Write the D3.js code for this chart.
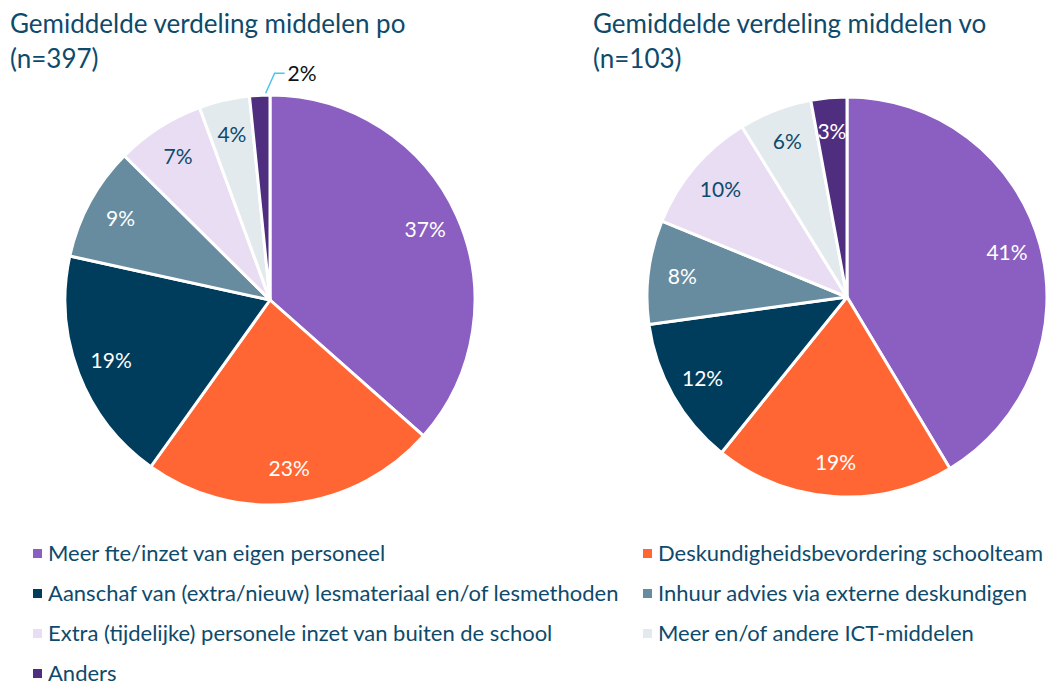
<!DOCTYPE html>
<html>
<head>
<meta charset="utf-8">
<script src="https://cdn.jsdelivr.net/npm/d3@7"></script>
<style>
  body { margin: 0; background: #fff; }
  svg { font-family: Lato, "Open Sans", sans-serif; }
</style>
</head>
<body>
<svg id="chart" width="1047" height="687"></svg>
<script>
// categories, in drawing order (clockwise from 12 o'clock)
const categories = [
  "Meer fte/inzet van eigen personeel",
  "Deskundigheidsbevordering schoolteam",
  "Aanschaf van (extra/nieuw) lesmateriaal en/of lesmethoden",
  "Inhuur advies via externe deskundigen",
  "Extra (tijdelijke) personele inzet van buiten de school",
  "Meer en/of andere ICT-middelen",
  "Anders"
];
const colors = ["#8b5fc1", "#ff6633", "#003d5c", "#678ca0", "#e8ddf2", "#e3eaee", "#4f2d7f"];
const labelColors = ["#fff", "#fff", "#fff", "#fff", "#0e4a6b", "#0e4a6b", "#fff"];

// average distribution (%)
const valuesPo = [36.6, 23.4, 18.6, 9.0, 7.0, 4.0, 1.6];
const valuesVo = [41.4, 19.4, 12.0, 8.4, 10.0, 5.9, 2.9];

const titlesPo = ["Gemiddelde verdeling middelen po", "(n=397)"];
const titlesVo = ["Gemiddelde verdeling middelen vo", "(n=103)"];

const svg = d3.select("#chart");
const textColor = "#0e4a6b";

function drawPie(values, titles, cx, cy, r, titleX) {
  const title = svg.append("g");
  titles.forEach((t, i) => {
    title.append("text")
      .attr("x", titleX)
      .attr("y", 33 + i * 35)
      .attr("fill", textColor)
      .style("font-size", "26px")
      .text(t);
  });

  const pie = d3.pie().sort(null).value(d => d.value);
  const arcs = pie(values.map((v, i) => ({ value: v, i: i })));
  const arc = d3.arc().innerRadius(0).outerRadius(r);

  const g = svg.append("g").attr("transform", "translate(" + cx + "," + cy + ")");

  g.selectAll("path")
    .data(arcs)
    .enter()
    .append("path")
    .attr("d", arc)
    .attr("fill", d => colors[d.data.i])
    .attr("stroke", "#fff")
    .attr("stroke-width", 3)
    .attr("stroke-linejoin", "round");

  const labelArc = d3.arc().innerRadius(r * 0.83).outerRadius(r * 0.83);

  arcs.forEach(d => {
    const txt = Math.round(d.data.value) + "%";
    if (d.data.value < 2) {
      // small slice: label outside with a leader line
      const a = (d.startAngle + d.endAngle) / 2;
      const x0 = Math.sin(a) * (r + 2) + 6, y0 = -Math.cos(a) * (r + 2);
      const x1 = x0 + 9, y1 = y0 - 20;
      g.append("polyline")
        .attr("points", [[x0, y0], [x1, y1], [x1 + 10, y1]].map(p => p.join(",")).join(" "))
        .attr("fill", "none")
        .attr("stroke", "#4dc3f2")
        .attr("stroke-width", 1.5);
      g.append("text")
        .attr("x", x1 + 13)
        .attr("y", y1)
        .attr("dy", "0.35em")
        .attr("fill", "#111")
        .style("font-size", "21px")
        .text(txt);
    } else {
      const c = labelArc.centroid(d);
      g.append("text")
        .attr("x", c[0])
        .attr("y", c[1])
        .attr("dy", "0.35em")
        .attr("text-anchor", "middle")
        .attr("fill", labelColors[d.data.i])
        .style("font-size", "21px")
        .text(txt);
    }
  });
}

drawPie(valuesPo, titlesPo, 270, 300, 205, 10);
drawPie(valuesVo, titlesVo, 847, 297, 200, 593);

// legend: two columns
const legend = svg.append("g");
categories.forEach((c, i) => {
  const col = i % 2, row = Math.floor(i / 2);
  const x = col === 0 ? 33 : 643;
  const y = 553 + row * 40;
  legend.append("rect")
    .attr("x", x)
    .attr("y", y - 4)
    .attr("width", 9)
    .attr("height", 9)
    .attr("fill", colors[i]);
  const t = legend.append("text")
    .attr("x", x + 15)
    .attr("y", y)
    .attr("dy", "0.35em")
    .attr("fill", textColor)
    .style("font-size", "22px")
    .text(c);
  // keep long entries inside the page
  const maxW = 1043 - (x + 15);
  if (t.node().getComputedTextLength() > maxW) {
    t.attr("textLength", maxW).attr("lengthAdjust", "spacingAndGlyphs");
  }
});
</script>
</body>
</html>
